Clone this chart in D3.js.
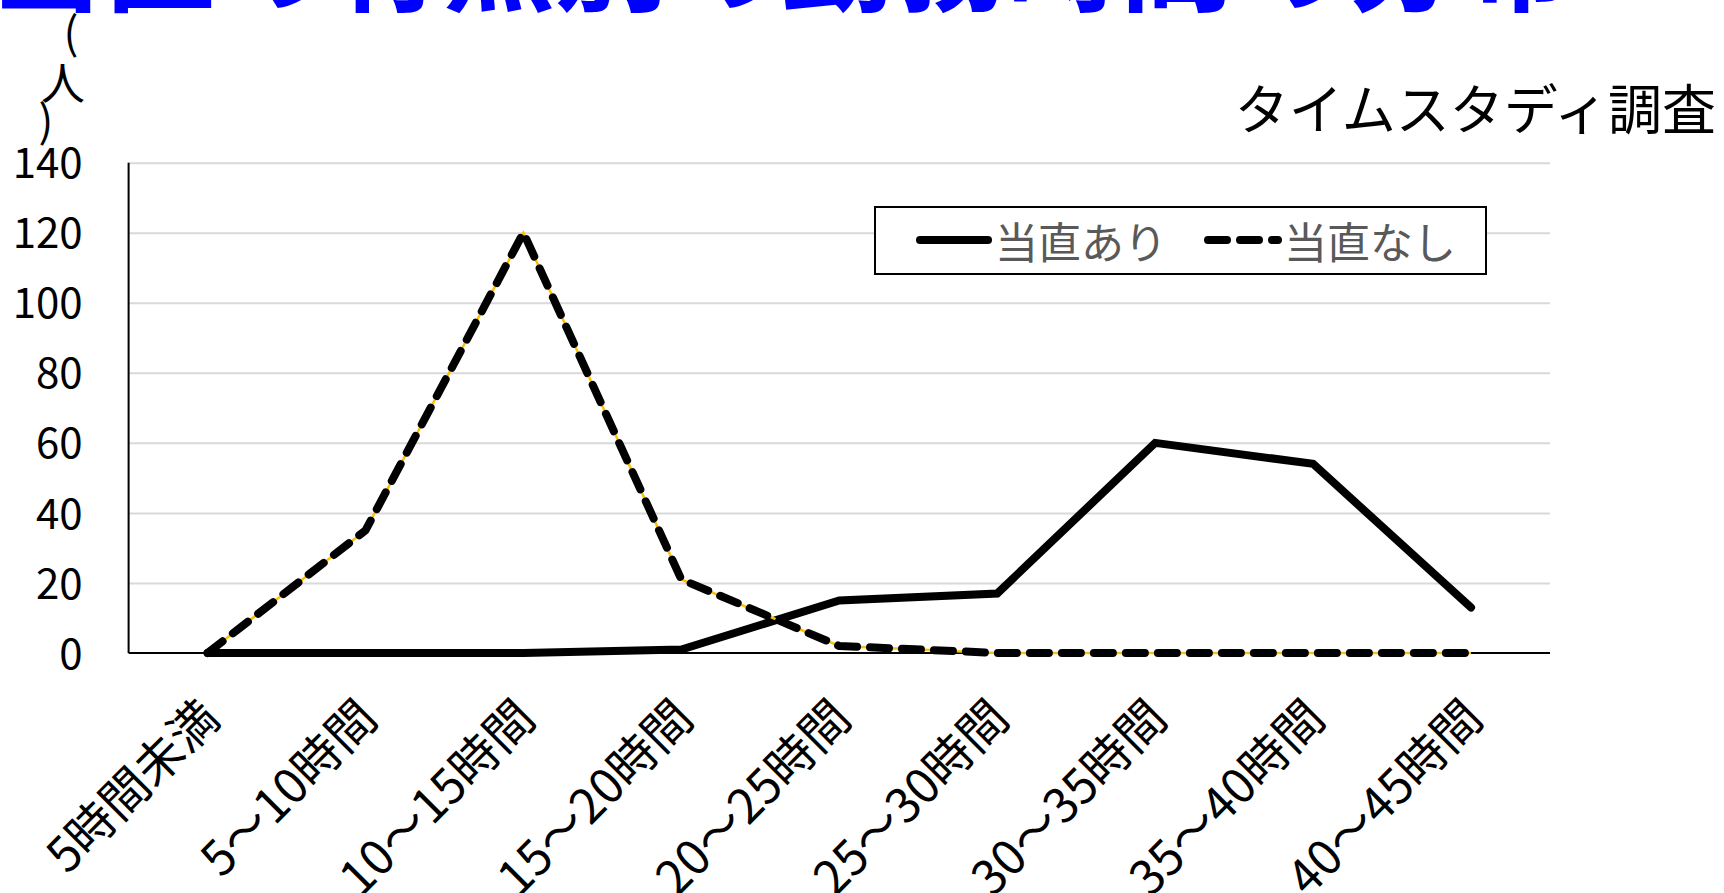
<!DOCTYPE html>
<html><head><meta charset="utf-8">
<script src="https://cdn.jsdelivr.net/npm/d3@7"></script>
<style>
html,body{margin:0;padding:0;background:#fff;overflow:hidden;}
svg{display:block;font-family:"Noto Sans CJK JP","Noto Sans",sans-serif;}
</style></head>
<body>
<svg id="chart" width="1724" height="893"></svg>
<script>
const categories = ["5時間未満","5～10時間","10～15時間","15～20時間","20～25時間","25～30時間","30～35時間","35～40時間","40～45時間"];
const withDuty = [0, 0, 0, 1, 15, 17, 60, 54, 13];
const withoutDuty = [0, 35, 120, 21, 2, 0, 0, 0, 0];
const yTicks = [0, 20, 40, 60, 80, 100, 120, 140];
const seriesNames = ["当直あり", "当直なし"];
const titleText = "当直の有無別の勤務時間の分布";
const subtitleText = "タイムスタディ調査";
const yUnit = ["(", "人", ")"];

(function () {
const svg = d3.select("#chart");
const pL = 128.6, pR = 1550, pT = 162.7, pB = 653;

const x = d3.scalePoint().domain(categories).range([pL, pR]).padding(0.5);
const y = d3.scaleLinear().domain([0, 140]).range([pB, pT]);

// title (cut off at the top)
svg.append("text").attr("x", -10).attr("y", 2)
  .attr("font-size", 113).attr("font-weight", "bold").attr("fill", "#0000ff")
  .text(titleText);

// subtitle
svg.append("text").attr("x", 1716).attr("y", 130).attr("text-anchor", "end")
  .attr("font-size", 54).attr("fill", "#000").text(subtitleText);

// y unit (stacked, one text element)
const unitPos = [[71, 49], [63, 100], [46, 137]];
svg.append("text").attr("font-size", 44).attr("fill", "#000").attr("text-anchor", "middle")
  .selectAll("tspan").data(yUnit).join("tspan")
  .attr("x", (d, i) => unitPos[i][0]).attr("y", (d, i) => unitPos[i][1])
  .text(d => d);

// grid lines
const yAxis = d3.axisLeft(y).tickValues(yTicks).tickSize(-(pR - pL)).tickPadding(46);
const gy = svg.append("g").attr("transform", `translate(${pL},0)`).call(yAxis);
gy.select(".domain").remove();
gy.selectAll(".tick line").attr("stroke", "#d9d9d9").attr("stroke-width", 2)
  .filter(d => d === 0).remove();
gy.selectAll(".tick text").attr("font-size", 42).attr("fill", "#000")
  .attr("font-family", "'Noto Sans CJK JP', sans-serif").attr("dy", "0.36em");

// y axis line
svg.append("line").attr("x1", pL).attr("x2", pL).attr("y1", pT).attr("y2", pB)
  .attr("stroke", "#000").attr("stroke-width", 2);

// x axis
const xAxis = d3.axisBottom(x).tickSize(0).tickPadding(0);
const gx = svg.append("g").attr("transform", `translate(0,${pB})`).call(xAxis);
gx.select(".domain").attr("d", `M${pL},0H${pR}`).attr("stroke", "#000").attr("stroke-width", 2);
gx.selectAll(".tick text")
  .attr("font-size", 48).attr("fill", "#000")
  .attr("font-family", "'Noto Sans CJK JP', sans-serif")
  .attr("text-anchor", "end").attr("dy", 0)
  .attr("transform", "translate(14,68) rotate(-45)");

const line = d3.line().x((d, i) => x(categories[i])).y(d => y(d));

// series: with duty (solid)
svg.append("path").datum(withDuty).attr("d", line)
  .attr("fill", "none").attr("stroke", "#000").attr("stroke-width", 8)
  .attr("stroke-linejoin", "miter").attr("stroke-linecap", "round");

// series: without duty (yellow thin + black dashes)
svg.append("path").datum(withoutDuty).attr("d", line)
  .attr("fill", "none").attr("stroke", "#ffc000").attr("stroke-width", 2.5);
svg.append("path").datum(withoutDuty).attr("d", line)
  .attr("fill", "none").attr("stroke", "#000").attr("stroke-width", 8)
  .attr("stroke-dasharray", "19,13").attr("stroke-linecap", "round")
  .attr("stroke-linejoin", "round");

// legend
const lg = svg.append("g");
lg.append("rect").attr("x", 875).attr("y", 207).attr("width", 611).attr("height", 67)
  .attr("fill", "#fff").attr("stroke", "#000").attr("stroke-width", 2);
lg.append("line").attr("x1", 920).attr("x2", 988).attr("y1", 240).attr("y2", 240)
  .attr("stroke", "#000").attr("stroke-width", 8).attr("stroke-linecap", "round");
lg.append("text").attr("x", 995).attr("y", 259).attr("font-size", 43).attr("fill", "#595959").text(seriesNames[0]);
lg.append("line").attr("x1", 1208).attr("x2", 1278).attr("y1", 240).attr("y2", 240)
  .attr("stroke", "#000").attr("stroke-width", 8).attr("stroke-linecap", "round")
  .attr("stroke-dasharray", "19,13");
lg.append("text").attr("x", 1284).attr("y", 259).attr("font-size", 43).attr("fill", "#595959").text(seriesNames[1]);
})();
</script>
</body></html>
